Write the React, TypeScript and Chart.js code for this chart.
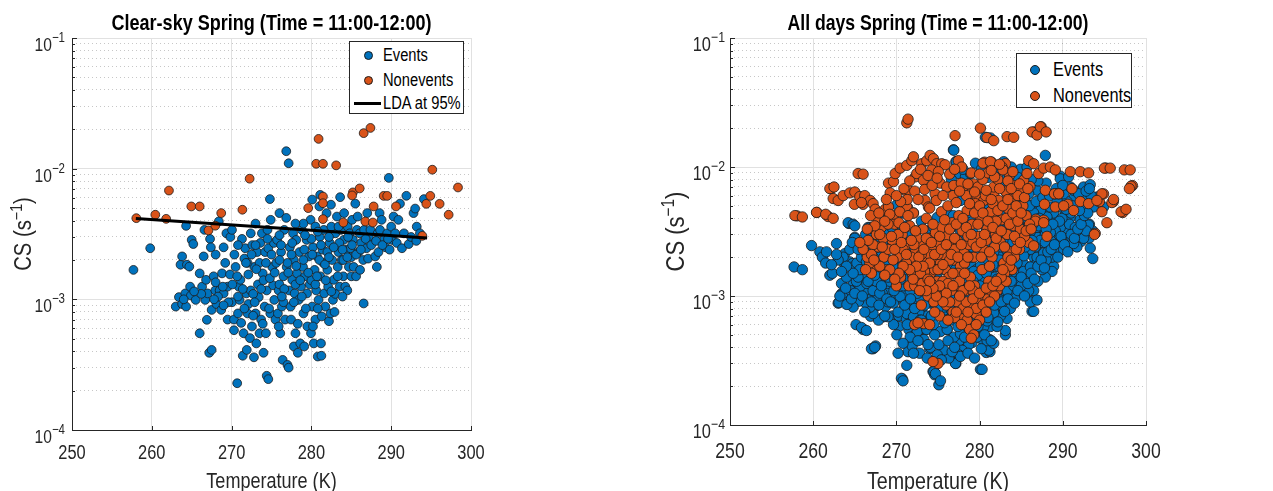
import React, { useEffect, useRef } from "react";
import { Chart, registerables } from "chart.js";
Chart.register(...registerables);

const FONT = '"Liberation Sans", Arial, Helvetica, sans-serif';
const BLUE = "#0072BD";
const ORANGE = "#D95319";
const AXIS = "#262626";

const xTicks = [250, 260, 270, 280, 290, 300];
const xTickLabels = ["250", "260", "270", "280", "290", "300"];
const yTicks = [1e-4, 1e-3, 1e-2, 1e-1];
const yTickExponents = ["−4", "−3", "−2", "−1"];
const yMinorTicks: number[] = [];
for (const d of [1e-4, 1e-3, 1e-2]) for (let m = 2; m <= 9; m++) yMinorTicks.push(m * d);

// LDA boundary (clear-sky panel)
const ldaLine: [number, number][] = [[258, 4.15e-3], [294.5, 2.95e-3]];

// Clear-sky events [T (K), CS (1/s)]
const clearEvents: [number, number][] = [
[257.7,1.68e-3],[259.8,2.46e-3],[263.0,8.8e-4],[263.4,1.04e-3],[263.6,1.84e-3],[263.8,2.13e-3],[263.8,9.2e-4],[264.2,1.11e-3],[264.3,8.8e-4],[264.3,3.65e-3],[264.4,1.84e-3],[264.7,1.78e-3],[264.8,1.25e-3],[264.9,1.07e-3],[265.0,2.85e-3],[265.2,2.65e-3],[265.5,9.9e-4],[266.0,1.58e-3],[266.0,5.5e-4],[266.3,1.25e-3],[266.5,2.13e-3],[266.6,3.4e-3],[266.7,9.9e-4],[266.8,1.41e-3],[266.9,6.97e-4],[267.0,1.11e-3],[267.2,3.9e-4],[267.3,2.9e-3],[267.4,2.5e-3],[267.5,4.1e-4],[267.5,8.3e-4],[267.75,1.5e-3],[267.96,1.17e-3],[268.1,9.2e-4],[268.4,3.95e-3],[268.5,1.17e-3],[268.7,8.3e-4],[268.8,1.58e-3],[269.0,1.11e-3],[269.2,1.9e-3],[269.35,3.2e-3],[269.5,7.0e-4],[269.8,1.55e-3],[269.85,3.0e-3],[270.05,3.4e-3],[270.05,9.5e-4],[270.3,7.0e-4],[270.3,5.8e-4],[270.35,2.2e-3],[270.5,1.77e-3],[270.7,2.28e-4],[270.8,7.8e-4],[270.9,1.25e-3],[271.0,9.9e-4],[271.1,1.41e-3],[271.2,6.6e-4],[271.3,2.9e-3],[271.4,3.7e-4],[271.5,5.5e-4],[271.6,2.05e-3],[271.7,2.46e-3],[271.85,1.11e-3],[271.9,4.1e-4],[272.0,7.8e-4],[272.1,9.2e-4],[272.3,5.05e-4],[272.4,3.2e-3],[272.4,1.17e-3],[272.55,6.2e-4],[272.8,3.6e-4],[272.85,1.77e-3],[273.0,3.8e-3],[273.0,7.8e-4],[273.1,4.6e-4],[273.2,2.3e-3],[273.3,1.3e-3],[273.4,1.04e-3],[273.5,5.5e-4],[273.6,2.7e-3],[273.7,7.0e-4],[273.8,3.2e-3],[273.9,1.58e-3],[274.0,3.9e-4],[274.15,8.8e-4],[274.2,2.3e-3],[274.3,5.5e-4],[274.4,2.6e-4],[274.4,1.17e-3],[274.6,2.45e-4],[274.6,2.46e-3],[274.8,5.85e-3],[274.85,7.8e-4],[274.9,4.06e-3],[275.1,1.77e-3],[275.2,1.28e-3],[275.3,2.7e-3],[275.35,9.9e-4],[275.5,7.0e-4],[275.6,1.9e-3],[275.7,2.85e-3],[275.8,7.8e-4],[275.9,1.17e-3],[276.0,4.57e-3],[276.1,5.5e-4],[276.2,2.3e-3],[276.3,8.8e-4],[276.4,3.44e-4],[276.5,1.5e-3],[276.6,3.4e-3],[276.7,7.0e-4],[276.85,4.2e-3],[276.85,1.36e-2],[276.9,1.77e-3],[277.0,3.15e-4],[277.15,1.1e-2],[277.15,3.0e-4],[277.2,1.17e-3],[277.3,2.5e-3],[277.4,8.8e-4],[277.45,7.0e-4],[277.6,1.41e-3],[277.7,3.2e-3],[277.8,2.0e-3],[277.8,4.36e-4],[277.9,1.11e-3],[278.0,5.5e-4],[278.1,2.85e-3],[278.2,1.58e-3],[278.3,3.9e-4],[278.4,9.9e-4],[278.5,2.3e-3],[278.6,4.6e-4],[278.7,1.25e-3],[278.8,3.4e-3],[278.95,1.77e-3],[279.0,7.8e-4],[279.1,4.36e-4],[279.2,1.5e-3],[279.4,2.85e-3],[279.45,1.11e-3],[279.5,6.2e-4],[279.7,2.13e-3],[279.8,1.3e-3],[279.9,4.06e-3],[279.95,5.5e-4],[280.1,5.8e-3],[280.1,8.8e-4],[280.2,2.5e-3],[280.3,4.6e-4],[280.4,1.68e-3],[280.5,3.61e-3],[280.5,7.0e-4],[280.6,1.17e-3],[280.7,2.13e-3],[280.8,3.65e-4],[280.9,9.9e-4],[281.0,5.14e-3],[281.05,3.0e-3],[281.1,6.3e-3],[281.1,1.5e-3],[281.2,4.6e-4],[281.25,3.7e-4],[281.3,7.4e-4],[281.4,2.4e-3],[281.5,1.9e-3],[281.55,3.4e-3],[281.6,1.11e-3],[281.75,8.8e-4],[281.9,4.57e-3],[282.0,1.68e-3],[282.1,1.25e-3],[282.2,6.8e-4],[282.3,2.7e-3],[282.4,7.8e-4],[282.45,5.3e-3],[282.6,2.0e-3],[282.7,9.9e-4],[282.8,1.41e-3],[282.9,8.0e-4],[283.0,3.2e-3],[283.2,4.3e-3],[283.3,1.77e-3],[283.4,2.3e-3],[283.55,1.25e-3],[283.6,6.05e-3],[283.7,3.4e-3],[283.8,2.0e-3],[284.0,1.5e-3],[284.05,2.85e-3],[284.1,4.57e-3],[284.25,1.25e-3],[284.4,2.4e-3],[284.5,1.17e-3],[284.55,3.6e-3],[284.7,1.77e-3],[284.8,3.2e-3],[284.9,2.46e-3],[285.0,1.5e-3],[285.1,4.06e-3],[285.2,2.85e-3],[285.3,1.77e-3],[285.5,5.4e-3],[285.6,1.5e-3],[285.7,3.4e-3],[285.8,4.3e-3],[285.9,2.3e-3],[286.05,3.2e-3],[286.1,1.68e-3],[286.25,2.7e-3],[286.5,2.0e-3],[286.55,9.3e-4],[286.6,3.4e-3],[286.9,2.46e-3],[287.0,4.57e-3],[287.1,2.05e-3],[287.2,3.0e-3],[287.4,3.4e-3],[288.0,2.13e-3],[288.2,1.77e-3],[288.3,3.2e-3],[288.4,2.3e-3],[288.55,4.57e-3],[288.6,3.4e-3],[288.8,4.06e-3],[289.1,2.85e-3],[289.3,2.5e-3],[289.5,3.2e-3],[289.7,8.5e-3],[289.8,2.4e-3],[290.0,3.6e-3],[290.1,2.85e-3],[290.3,4.3e-3],[290.5,3.2e-3],[290.7,2.7e-3],[290.9,4.06e-3],[291.1,5.4e-3],[291.35,2.46e-3],[291.6,3.2e-3],[291.9,6.2e-3],[292.2,2.65e-3],[292.5,3.0e-3],[292.8,4.57e-3],[293.0,4.95e-3],[293.15,2.8e-3],[293.2,3.6e-3],[293.6,3.2e-3],[294.1,5.85e-3],
[272.0,1.9e-3],[272.6,2.6e-3],[273.5,1.9e-3],[274.0,1.4e-3],[275.0,2.2e-3],[276.0,1.3e-3],[277.0,1.9e-3],[278.0,1.3e-3],[279.0,2.0e-3],[280.0,1.4e-3],[281.0,2.0e-3],[282.0,2.3e-3],[283.0,1.1e-3],[280.0,2.9e-3],[279.0,3.8e-3],[278.0,3.8e-3],[282.5,3.6e-3],[284.0,2.0e-3],[285.0,2.1e-3],[283.5,2.7e-3],[270.8,1.05e-3],[269.5,1.25e-3],[268.0,1.35e-3],[276.5,9.5e-4],[278.8,1.05e-3],[280.5,1.3e-3],[281.8,1.4e-3],
[268.3,1.05e-3],[268.9,1.25e-3],[269.6,9.5e-4],[270.1,1.3e-3],[270.7,1.5e-3],[271.4,1.2e-3],[272.1,1.55e-3],[272.7,1.1e-3],[273.1,1.7e-3],[273.7,1.2e-3],[274.3,1.9e-3],[274.8,1.45e-3],[275.4,1.6e-3],[276.0,2.0e-3],[276.6,1.2e-3],[277.1,1.6e-3],[277.5,2.2e-3],[278.1,1.8e-3],[278.6,1.4e-3],[279.1,2.4e-3],[279.6,1.6e-3],[280.1,2.2e-3],[280.7,1.5e-3],[281.2,2.6e-3],[281.7,1.85e-3],[282.2,2.1e-3],[282.8,2.5e-3],[283.3,1.5e-3],[283.9,2.4e-3],[284.5,2.1e-3],[285.1,2.6e-3],[285.6,2.2e-3],[286.2,2.4e-3],[286.8,2.9e-3],[287.5,2.6e-3],[288.1,2.8e-3],[288.9,2.6e-3],[289.6,2.9e-3],[271.6,8.5e-4],[272.9,9.5e-4],[274.7,8.5e-4],[276.3,1.05e-3],[277.8,9.5e-4],[279.3,8.5e-4],[280.8,8.5e-4],[282.5,1.15e-3],[283.9,1.05e-3],[275.9,6.2e-4],[278.3,6.5e-4],[280.2,6.2e-4],[273.9,6.5e-4],[272.7,7.5e-4],[269.0,9.0e-4],[267.8,1.0e-3],[266.2,1.1e-3],[265.3,1.15e-3],[264.0,1.0e-3],[271.8,1.9e-3],[273.0,2.6e-3],[274.5,2.9e-3],[276.2,2.6e-3],[277.6,2.7e-3],[279.2,3.1e-3],[280.8,3.3e-3],[282.2,3.0e-3],[283.4,3.6e-3],[284.6,3.0e-3],[276.0,3.1e-3],[274.5,3.4e-3],[272.5,2.2e-3],[270.8,2.6e-3],[269.0,2.5e-3],[268.0,2.2e-3]
];

// Clear-sky nonevents
const clearNonevents: [number, number][] = [
[258.06,4.18e-3],[260.44,4.44e-3],[261.8,4.13e-3],[262.15,6.8e-3],[264.95,5.14e-3],[266.0,5.14e-3],[267.1,3.37e-3],[267.96,3.66e-3],[268.7,4.57e-3],[271.35,4.85e-3],[272.26,8.38e-3],[279.6,4.99e-3],[280.9,1.69e-2],[280.6,1.09e-2],[281.45,1.09e-2],[283.1,1.06e-2],[281.45,6.12e-3],[281.45,5.44e-3],[281.45,4.11e-3],[284.0,3.87e-3],[285.2,6.58e-3],[285.1,6.24e-3],[286.05,7.06e-3],[286.55,1.87e-2],[287.4,2.05e-2],[286.76,3.94e-3],[287.7,3.87e-3],[287.8,5.14e-3],[289.06,6.19e-3],[289.5,6.19e-3],[290.6,5.14e-3],[293.9,3.06e-3],[294.4,5.38e-3],[294.9,6.19e-3],[295.15,9.82e-3],[296.07,5.38e-3],[297.2,4.44e-3],[298.37,7.18e-3]
];

// Additional events on all days (not clear-sky)
const otherEvents: [number, number][] = [
[258.7,1.6e-3],[260.8,2.2e-3],[261.1,2.0e-3],[261.5,1.8e-3],[262.0,1.45e-3],[262.3,1.5e-3],[262.8,2.55e-3],[263.1,8.9e-4],[264.2,3.7e-3],[264.8,3.6e-3],[265.0,2.8e-3],[265.15,6.0e-4],[265.8,5.7e-4],[266.4,5.4e-4],[267.0,3.9e-4],[267.4,4.0e-4],[270.05,5.1e-3],[270.8,4.4e-3],[270.2,3.6e-4],[270.6,2.3e-4],[270.8,2.2e-4],[271.25,2.9e-4],[272.05,3.6e-4],[273.7,3.3e-4],[274.5,2.6e-4],[274.7,2.5e-4],[275.1,2.05e-4],[275.3,2.2e-4],[276.9,1.35e-2],[277.2,1.1e-2],[279.5,1.07e-2],[280.7,1.7e-2],[281.3,1.68e-2],[280.1,2.7e-4],[280.3,2.7e-4],[281.1,3.8e-4],[283.1,5.0e-4],[283.1,5.4e-4],[286.3,7.6e-4],[286.5,7.6e-4],[287.9,1.23e-2],[289.7,8.1e-3],[290.7,8.4e-3],[292.5,7.0e-3],[293.3,7.3e-3],[293.1,3.55e-3],[293.3,2.35e-3],[293.6,1.95e-3],[291.7,2.4e-3],[290.9,2.9e-3],[291.3,2.55e-3],[292.5,2.8e-3],[292.3,4.9e-3],[293.7,4.9e-3],[294.9,4.9e-3],[291.4,5.9e-3],[292.6,5.5e-3],[288.9,1.7e-3],[288.7,1.55e-3],[287.9,1.4e-3],[286.9,1.8e-3],[286.5,1.1e-3],[285.9,1.1e-3],[286.1,9.0e-4],[286.9,9.3e-4],[285.5,1.35e-3],[284.9,1.05e-3],[284.3,9.6e-4],[283.7,8.0e-4],[283.3,6.7e-4],[282.5,7.0e-4],[281.7,7.4e-4],[281.3,5.8e-4],[280.5,5.8e-4],[279.7,4.8e-4],[278.7,4.2e-4],[277.9,3.8e-4],[277.5,3.5e-4],[277.1,3.0e-4],[276.3,3.3e-4],[275.7,3.8e-4],[274.9,3.5e-4],[274.1,4.0e-4],[273.3,4.6e-4],[272.5,5.3e-4],[271.65,4.8e-4],[270.8,4.3e-4],[270.05,5.0e-4],[269.65,6.0e-4],[269.0,6.9e-4],[268.45,6.9e-4],[267.85,6.5e-4],[267.2,7.3e-4],[266.85,8.2e-4],[266.25,8.9e-4],[265.45,9.1e-4],[264.8,8.2e-4],[264.05,8.6e-4],[263.6,1.05e-3],[263.4,1.25e-3],[264.0,1.4e-3],[264.6,1.67e-3],[265.25,1.8e-3],[265.8,2.0e-3],[266.45,2.1e-3],[267.25,2.3e-3],[267.85,2.5e-3],[268.45,2.7e-3],[268.85,3.1e-3],[269.45,3.4e-3],[265.6,1.18e-3],[266.45,1.25e-3],[267.2,1.1e-3],[268.0,1.05e-3],[268.85,9.5e-4],[269.65,8.8e-4],[270.45,9.9e-4],[271.25,7.3e-4],[272.05,6.9e-4],[272.85,6.5e-4],[273.65,5.5e-4],[274.5,6.0e-4],[275.3,5.3e-4],[276.1,5.5e-4],[276.9,4.8e-4],[277.7,5.1e-4],[278.5,5.8e-4],[279.3,6.3e-4],[279.7,6.9e-4],[280.9,6.4e-4],[282.1,5.8e-4],[281.7,4.3e-4],[280.9,4.5e-4],[277.7,3.4e-4],[276.7,3.7e-4],[275.1,4.2e-4],[279.3,1.0e-3],[281.3,1.0e-3],[282.5,9.3e-4],[283.3,1.1e-3],[284.1,1.2e-3],[284.5,1.3e-3],[285.3,1.55e-3],[286.1,1.68e-3],[286.9,2.0e-3],[287.7,2.15e-3],[288.5,2.4e-3],[288.9,2.7e-3],[289.5,3.0e-3],[289.9,2.7e-3],[290.3,3.1e-3],[290.5,3.3e-3],[289.7,3.4e-3],[289.1,3.2e-3],[288.5,3.1e-3],[287.9,3.0e-3],[287.3,2.7e-3],[286.7,2.4e-3],[286.1,2.3e-3],[285.3,2.05e-3],[284.5,1.8e-3],[283.7,1.6e-3],[282.9,1.5e-3],[282.1,1.35e-3],[281.3,1.25e-3],[280.5,1.35e-3],[279.7,1.2e-3],[278.9,9.5e-4],[278.1,8.2e-4],[277.3,9.5e-4],[276.5,7.9e-4],[275.7,8.2e-4],[274.9,9.3e-4],[274.1,9.9e-4],[273.3,1.1e-3],[272.5,1.05e-3],[271.65,1.1e-3],[270.85,1.2e-3],[290.5,5.4e-3],[291.3,6.6e-3],[291.9,6.2e-3],[289.7,4.9e-3],[288.9,4.4e-3],[288.1,4.1e-3],[287.3,4.6e-3],[286.5,4.4e-3],[285.7,4.0e-3],[284.9,3.4e-3],[284.1,3.1e-3],[283.3,2.8e-3],[282.5,2.4e-3],[281.7,2.2e-3],[280.9,1.9e-3],[280.1,1.7e-3],[279.3,1.55e-3],[278.5,1.35e-3],[277.7,1.2e-3],[285.3,3.0e-3],[286.1,3.15e-3],[286.9,3.4e-3],[287.7,3.8e-3],[288.5,4.9e-3],[289.3,5.5e-3],[290.1,6.2e-3],[290.9,7.0e-3],[286.9,6.6e-3],[285.9,6.2e-3],[284.9,5.5e-3],[284.1,4.9e-3],[282.5,4.4e-3],[281.7,4.9e-3],[282.5,7.0e-3],[283.3,8.4e-3],[282.9,1.1e-2],[284.9,9.6e-3],[285.7,1.0e-2],[277.5,8.9e-3],[278.3,8.4e-3],[278.9,8.9e-3],[276.3,7.0e-3],[277.7,5.5e-3],[279.3,5.5e-3],[278.5,4.4e-3],[272.05,4.4e-3],[271.25,3.5e-3],[270.45,3.1e-3],[270.05,2.6e-3],[268.05,2.6e-3],[267.45,3.1e-3],[266.85,3.4e-3],[265.0,3.5e-3],[264.4,2.3e-3],[263.6,2.0e-3],[263.0,1.9e-3],
[264.5,1.1e-3],[265.2,1.3e-3],[266.0,1.5e-3],[266.8,1.6e-3],[267.6,1.3e-3],[268.4,1.5e-3],[269.2,1.3e-3],[270.0,1.5e-3],[270.6,1.7e-3],[271.4,1.5e-3],[283.9,2.2e-3],[284.7,2.6e-3],[285.5,2.4e-3],[286.3,2.7e-3],[287.1,3.5e-3],[287.9,2.6e-3],[288.7,2.0e-3],[289.5,2.2e-3],[290.1,2.3e-3],[290.8,3.6e-3],[291.5,3.4e-3],[292.1,3.9e-3],[292.8,3.2e-3],[291.0,4.4e-3],[289.9,4.0e-3],[288.3,3.6e-3],[283.0,1.9e-3],[282.2,1.7e-3],[281.0,1.6e-3],[279.8,1.45e-3],[278.6,1.15e-3],[277.0,1.05e-3],[275.8,1.0e-3],[274.6,1.1e-3],[273.5,1.25e-3],[272.3,1.3e-3],[271.0,1.35e-3],[285.0,1.2e-3],[286.0,1.4e-3],[287.0,1.3e-3],[287.5,1.6e-3],[288.0,1.9e-3],
[263.2,1.0e-3],[263.9,1.15e-3],[264.6,9.5e-4],[265.0,1.05e-3],[265.4,1.4e-3],[265.9,1.0e-3],[266.2,7.5e-4],[266.6,1.3e-3],[267.0,9.0e-4],[267.4,1.45e-3],[267.9,8.5e-4],[268.2,1.2e-3],[268.6,7.0e-4],[269.0,1.4e-3],[269.3,9.0e-4],[269.7,1.1e-3],[270.2,7.5e-4],[270.5,1.35e-3],[271.0,8.5e-4],[271.3,6.0e-4],[271.7,9.5e-4],[272.2,8.0e-4],[272.6,4.5e-4],[273.0,6.5e-4],[273.4,8.5e-4],[273.8,4.2e-4],[274.2,7.0e-4],[274.6,5.0e-4],[275.0,8.0e-4],[275.4,3.2e-4],[275.8,6.2e-4],[276.2,4.5e-4],[276.6,6.5e-4],[277.0,4.0e-4],[277.4,5.8e-4],[277.8,7.2e-4],[278.2,4.8e-4],[278.6,3.6e-4],[279.0,5.5e-4],[279.4,3.3e-4],[279.8,5.8e-4],[280.2,3.9e-4],[280.6,5.0e-4],[281.0,6.8e-4],[281.4,4.5e-4],[281.8,8.5e-4],[282.2,6.3e-4],[282.6,9.0e-4],[283.0,7.6e-4],[283.4,9.5e-4],[283.8,1.3e-3],[284.2,8.8e-4],[284.6,1.1e-3],[285.0,1.4e-3],[285.4,1.0e-3],[285.8,1.25e-3],[286.2,1.5e-3],[286.6,1.35e-3],[287.0,1.7e-3],[287.4,1.9e-3],[287.8,1.65e-3],[288.2,2.2e-3],[288.6,2.3e-3],[289.0,2.5e-3],[289.4,2.0e-3],[289.8,2.9e-3],[290.2,2.5e-3],[290.6,2.2e-3],[291.0,3.0e-3],[291.4,2.8e-3],[291.8,3.3e-3],[292.2,3.6e-3],[292.6,4.2e-3],[293.0,4.4e-3],[292.0,4.6e-3],[291.2,5.0e-3],[290.4,4.7e-3],[289.6,3.8e-3],[288.8,3.6e-3],[288.0,3.3e-3],[287.2,4.0e-3],[286.4,3.6e-3],[285.6,3.3e-3],[284.8,2.9e-3],[284.0,2.6e-3],[283.2,2.3e-3],[282.4,1.9e-3],[281.6,1.75e-3],[280.8,1.5e-3],[280.0,1.2e-3],[279.2,1.3e-3],[278.4,1.0e-3],[277.6,8.5e-4],[276.8,1.0e-3],[276.0,9.5e-4],[275.2,1.15e-3],[274.4,1.3e-3],[273.6,1.4e-3],[272.8,1.5e-3],[272.0,1.4e-3],[271.2,1.6e-3],[270.4,1.55e-3],[269.6,1.7e-3],[268.8,1.8e-3],[268.0,2.0e-3],[267.2,2.0e-3],[266.4,1.85e-3],[265.6,1.6e-3],[264.8,1.5e-3],[264.0,1.7e-3],[263.4,1.55e-3],[262.8,2.1e-3],[262.2,1.75e-3],[261.6,2.2e-3],[264.7,2.6e-3],[265.4,2.3e-3],[266.1,2.6e-3],[266.3,3.0e-3],[267.0,2.8e-3],[285.2,4.6e-3],[286.0,5.0e-3],[286.8,5.4e-3],[287.6,5.8e-3],[288.4,6.0e-3],[289.2,6.8e-3],[290.0,7.2e-3],[288.0,7.5e-3],[287.0,7.8e-3],[286.2,8.0e-3],[284.6,8.3e-3],[283.8,1.0e-2],[282.0,9.0e-3],[281.0,8.3e-3],[280.2,9.6e-3],[278.0,9.6e-3],[276.6,8.0e-3],[293.4,6.0e-3],[292.8,6.5e-3],[293.2,6.8e-3]
];

// Additional nonevents on all days (not clear-sky)
const otherNonevents: [number, number][] = [
[257.8,4.2e-3],[258.7,4.1e-3],[260.4,4.45e-3],[261.5,4.3e-3],[262.4,4.0e-3],[262.0,6.8e-3],[262.5,7.0e-3],[262.4,5.7e-3],[263.0,5.5e-3],[263.6,6.0e-3],[264.4,6.3e-3],[265.0,6.4e-3],[265.4,8.9e-3],[266.0,8.8e-3],[265.6,5.9e-3],[266.2,6.0e-3],[266.85,5.5e-3],[267.2,5.2e-3],[267.45,4.7e-3],[265.8,5.3e-3],[268.65,4.7e-3],[269.05,4.9e-3],[269.65,4.2e-3],[269.05,7.5e-3],[269.65,7.7e-3],[269.25,6.3e-3],[269.85,8.9e-3],[270.45,9.8e-3],[271.25,1.03e-2],[271.85,1.12e-2],[272.05,1.2e-2],[271.25,2.2e-2],[271.4,2.35e-2],[271.05,6.6e-3],[271.45,6.6e-3],[271.25,4.9e-3],[272.05,4.4e-3],[272.45,8.9e-3],[273.05,1.06e-2],[273.65,1.12e-2],[274.05,1.23e-2],[274.45,1.16e-2],[274.85,1.06e-2],[275.45,1.06e-2],[275.85,1.04e-2],[274.25,9.5e-3],[275.05,9.2e-3],[273.25,7.9e-3],[273.45,5.5e-3],[273.85,4.9e-3],[274.65,6.2e-3],[275.25,7.5e-3],[276.05,7.0e-3],[276.9,7.2e-3],[277.05,1.75e-2],[277.45,1.12e-2],[277.85,1.0e-2],[278.27,6.6e-3],[278.9,6.2e-3],[280.1,2.0e-2],[281.7,1.6e-2],[280.4,1.07e-2],[281.3,1.1e-2],[282.7,1.0e-2],[283.3,1.72e-2],[284.1,1.7e-2],[283.6,8.6e-3],[284.1,7.2e-3],[279.3,7.4e-3],[279.7,5.9e-3],[280.5,5.5e-3],[281.7,6.2e-3],[282.5,5.2e-3],[283.3,6.2e-3],[284.9,6.6e-3],[285.3,7.9e-3],[285.7,8.9e-3],[285.9,1.12e-2],[286.5,1.06e-2],[287.1,8.9e-3],[286.3,1.87e-2],[286.9,1.77e-2],[287.3,2.05e-2],[288.0,1.87e-2],[287.7,9.8e-3],[288.5,1.0e-2],[289.1,9.5e-3],[287.9,6.6e-3],[289.0,6.2e-3],[289.5,6.2e-3],[289.1,4.9e-3],[290.9,9.2e-3],[292.1,9.2e-3],[293.1,9.0e-3],[291.1,6.8e-3],[290.1,5.0e-3],[291.3,4.6e-3],[292.1,5.4e-3],[293.1,5.2e-3],[294.7,6.2e-3],[294.1,5.5e-3],[294.7,4.5e-3],[295.0,9.8e-3],[295.7,9.8e-3],[295.9,5.3e-3],[296.1,5.6e-3],[295.3,3.7e-3],[293.8,3.0e-3],[297.0,4.5e-3],[297.6,4.7e-3],[297.4,9.5e-3],[298.1,9.5e-3],[298.2,7.1e-3],[298.0,6.8e-3],[286.7,3.8e-3],[287.7,3.7e-3],[288.1,2.9e-3],[285.9,2.6e-3],[286.5,2.45e-3],
[272.0,1.8e-3],[272.3,2.2e-3],[272.6,1.6e-3],[272.9,1.9e-3],[273.1,2.5e-3],[273.3,1.4e-3],[273.5,2.0e-3],[273.7,1.7e-3],[273.9,2.8e-3],[274.1,1.5e-3],[274.3,2.3e-3],[274.5,1.9e-3],[274.7,3.1e-3],[274.9,1.3e-3],[275.1,2.6e-3],[275.3,1.8e-3],[275.5,3.4e-3],[275.7,2.1e-3],[275.9,1.6e-3],[276.1,2.9e-3],[276.3,1.4e-3],[276.5,2.4e-3],[276.7,3.7e-3],[276.9,1.9e-3],[277.1,1.2e-3],[277.3,2.7e-3],[277.5,4.2e-3],[277.7,1.7e-3],[277.9,3.2e-3],[278.1,2.2e-3],[278.3,1.1e-3],[278.5,4.6e-3],[278.7,2.5e-3],[278.9,1.4e-3],[279.1,3.6e-3],[279.3,2.0e-3],[279.5,5.2e-3],[279.7,1.0e-3],[279.9,2.9e-3],[280.1,4.0e-3],[280.3,1.6e-3],[280.5,2.3e-3],[280.7,6.0e-3],[280.9,3.3e-3],[281.1,1.3e-3],[281.3,4.5e-3],[281.5,2.0e-3],[281.7,7.0e-3],[281.9,3.0e-3],[282.1,1.1e-3],[282.3,5.5e-3],[282.5,2.6e-3],[282.7,3.9e-3],[282.9,1.8e-3],[283.1,6.5e-3],[283.3,3.0e-3],[283.5,4.7e-3],[283.7,2.2e-3],[283.9,1.6e-3],[284.1,3.5e-3],[284.3,5.8e-3],[284.5,2.7e-3],[284.7,4.2e-3],[284.9,3.3e-3],
[269.5,2.7e-3],[269.8,3.6e-3],[270.1,2.0e-3],[270.4,4.5e-3],[270.7,3.0e-3],[271.0,2.4e-3],[271.3,5.6e-3],[271.6,3.5e-3],[271.9,1.5e-3],[268.5,2.0e-3],[268.8,1.6e-3],[267.5,1.7e-3],[267.8,2.4e-3],[266.8,1.8e-3],[267.0,1.5e-3],[266.5,2.0e-3],[266.3,1.6e-3],[268.2,3.4e-3],[267.8,3.8e-3],[269.2,4.3e-3],[270.0,1.2e-3],[270.5,1.4e-3],[271.5,1.2e-3],[272.2,1.2e-3],[273.0,1.1e-3],[273.8,1.0e-3],[274.5,9e-4],[275.2,1.0e-3],[276.0,8.5e-4],[276.8,7.5e-4],[277.3,9e-4],[277.6,6.8e-4],[278.0,8e-4],[278.5,6.5e-4],[279.0,8.5e-4],[279.6,7.2e-4],[280.0,9e-4],[280.6,1.0e-3],[281.0,9.5e-4],[281.4,1.1e-3],[281.8,1.0e-3],[282.4,1.2e-3],[278.8,5.5e-4],[279.3,5.0e-4],[279.0,4.7e-4],[275.0,3.0e-4],[274.4,3.1e-4],[272.2,6.0e-4],[273.3,6.1e-4],[275.2,7.0e-4],[277.0,6.8e-4],[280.0,6.5e-4],
[272.5,2.8e-3],[273.2,3.3e-3],[273.6,4.0e-3],[274.0,4.8e-3],[274.8,5.5e-3],[275.4,4.5e-3],[276.2,5.0e-3],[276.8,6.0e-3],[277.2,5.3e-3],[277.8,7.5e-3],[278.4,6.0e-3],[279.0,9.0e-3],[279.8,7.0e-3],[280.4,8.0e-3],[281.0,9.0e-3],[281.6,5.2e-3],[282.2,8.0e-3],[282.8,9.5e-3],[283.4,7.8e-3],[284.0,9.2e-3],[284.6,6.0e-3],[285.2,5.0e-3],[285.6,4.2e-3],[286.0,3.6e-3],[285.4,2.9e-3],[284.8,2.3e-3],[284.2,2.0e-3],[283.6,1.7e-3],[283.0,1.5e-3],[283.2,1.3e-3],[282.6,1.4e-3],[272.8,1.3e-3],[273.4,1.55e-3],[274.2,1.25e-3],[274.6,1.6e-3],[275.0,2.1e-3],[275.6,1.3e-3],[276.4,1.9e-3],[277.0,2.3e-3],[277.4,1.5e-3],[278.2,1.8e-3],[278.6,2.9e-3],[279.2,2.6e-3],[279.4,1.2e-3],[280.2,2.0e-3],[280.8,2.7e-3],[281.2,1.7e-3],[281.8,2.4e-3],[282.0,3.8e-3],[276.6,1.1e-3],[275.8,1.15e-3],[274.0,2.1e-3],[273.0,2.1e-3],[272.4,1.45e-3],[271.8,2.0e-3],[271.2,1.8e-3],[270.8,2.3e-3],[270.2,3.0e-3],[269.6,1.9e-3],[269.0,2.3e-3],[268.4,2.8e-3],[267.6,3.0e-3],[267.2,2.5e-3],[266.6,2.7e-3],
[272.1,2.5e-3],[272.3,3.2e-3],[272.7,2.0e-3],[272.9,1.5e-3],[273.1,1.25e-3],[273.3,2.3e-3],[273.6,2.8e-3],[273.8,1.35e-3],[274.0,1.8e-3],[274.2,2.6e-3],[274.4,3.6e-3],[274.6,2.1e-3],[274.8,1.15e-3],[275.0,1.6e-3],[275.2,2.9e-3],[275.4,2.3e-3],[275.6,1.75e-3],[275.8,3.9e-3],[276.0,2.5e-3],[276.2,1.25e-3],[276.4,3.3e-3],[276.6,2.1e-3],[276.8,1.5e-3],[277.0,2.8e-3],[277.2,3.6e-3],[277.4,2.0e-3],[277.6,1.3e-3],[277.8,2.5e-3],[278.0,4.0e-3],[278.2,1.5e-3],[278.4,3.4e-3],[278.6,2.0e-3],[278.8,5.2e-3],[279.0,3.0e-3],[279.2,1.1e-3],[279.4,4.4e-3],[279.6,2.4e-3],[279.8,3.6e-3],[280.0,5.0e-3],[280.2,2.6e-3],[280.4,4.4e-3],[280.6,3.0e-3],[280.8,6.6e-3],[281.0,3.8e-3],[281.2,2.2e-3],[281.4,5.6e-3],[281.6,3.4e-3],[281.8,8.4e-3],[282.0,2.8e-3],[282.2,4.6e-3],[282.4,6.8e-3],[282.6,3.2e-3],[282.8,5.0e-3],[283.0,2.4e-3],[283.2,4.0e-3],[283.4,5.6e-3],[283.6,3.6e-3],[283.8,6.8e-3],[284.0,4.4e-3],[284.2,2.9e-3],[284.4,5.0e-3],[284.6,3.8e-3],[284.8,7.4e-3],[285.0,4.4e-3],[285.4,5.8e-3],[285.8,6.8e-3],[270.5,5.4e-3],[270.9,6.8e-3],[271.6,7.8e-3],[272.2,6.5e-3],[272.6,5.6e-3],[272.9,9.6e-3],[273.4,6.7e-3],[273.8,8.6e-3],[274.3,7.2e-3],[274.9,8.2e-3],[275.6,6.0e-3],[276.4,8.8e-3],[277.0,9.6e-3],[277.6,6.5e-3],[278.6,7.4e-3],[279.4,6.4e-3],[280.0,8.8e-3],[281.4,9.4e-3],[282.4,1.05e-2],[269.0,3.6e-3],[269.4,2.9e-3],[269.8,2.3e-3],[270.3,3.7e-3],[270.6,2.6e-3],[271.0,3.4e-3],[271.4,4.2e-3],[271.8,2.7e-3],[268.0,3.0e-3],[268.6,3.8e-3],[268.3,2.4e-3],[267.0,2.1e-3],[267.4,3.5e-3],[266.5,3.3e-3],[266.0,2.3e-3],[265.6,2.6e-3],[266.9,4.2e-3],[267.9,4.4e-3],[268.8,5.6e-3],[270.0,6.0e-3],
[278.0,1.1e-3],[278.4,9.0e-4],[278.8,1.2e-3],[279.2,9.5e-4],[279.6,8.0e-4],[280.0,1.05e-3],[280.4,8.5e-4],[280.8,1.15e-3],[281.2,9.0e-4],[281.6,1.2e-3],[282.0,1.3e-3],[277.6,1.0e-3],[277.2,7.5e-4],[276.8,1.2e-3],[276.4,9.0e-4],[276.0,1.05e-3],[275.6,9.0e-4],[275.2,1.2e-3],[274.8,1.0e-3],[274.4,1.15e-3],[274.0,1.3e-3],[273.6,1.1e-3],[273.2,1.7e-3],[272.8,1.1e-3],[272.4,1.7e-3],[272.0,1.35e-3],[271.6,1.6e-3],[271.2,2.1e-3],[270.8,1.7e-3],[270.3,1.5e-3],[269.8,1.35e-3],[269.2,1.6e-3],[268.6,1.45e-3],[268.0,1.7e-3],[267.3,1.9e-3],[279.6,6.0e-4],[280.8,7.5e-4],[278.6,7.5e-4],[277.8,6.0e-4],[276.2,6.5e-4],[274.6,7.5e-4],[273.0,8.5e-4],[272.6,6.2e-4],[274.0,6.0e-4],[282.8,1.6e-3],[283.4,2.0e-3],[283.8,1.9e-3],[284.4,2.3e-3],[284.9,2.6e-3],[285.6,3.2e-3],[286.2,3.3e-3]
];

const toXY = (arr: [number, number][]) => arr.map(([x, y]) => ({ x, y }));

type Part = { t: string; size: number; dy: number; weight?: string };

function drawParts(ctx: CanvasRenderingContext2D, parts: Part[], x: number, y: number, align: "left" | "center" | "right", sx: number, rot = 0, color = AXIS) {
  ctx.save();
  ctx.translate(x, y);
  if (rot) ctx.rotate(rot);
  ctx.scale(sx, 1);
  ctx.fillStyle = color;
  ctx.textBaseline = "alphabetic";
  ctx.textAlign = "left";
  const widths = parts.map((p) => { ctx.font = `${p.weight || "normal"} ${p.size}px ${FONT}`; return ctx.measureText(p.t).width; });
  const total = widths.reduce((a, b) => a + b, 0);
  let cx = align === "center" ? -total / 2 : align === "right" ? -total : 0;
  parts.forEach((p, i) => {
    ctx.font = `${p.weight || "normal"} ${p.size}px ${FONT}`;
    ctx.fillText(p.t, cx, p.dy);
    cx += widths[i];
  });
  ctx.restore();
}

type PanelCfg = {
  left: number; width: number;
  title: string; titleSize: number; titleY: number;
  chartLeft: number; chartRight: number; chartBottom: number;
  xTickSize: number; xTickY: number;
  yBase: number; yExp: number; yTickRight: number;
  labelSize: number; yLabelSize: number; xTitleY: number; yTitleX: number;
  sx: number;
  radius: number;
  events: [number, number][]; nonevents: [number, number][];
  lda: boolean;
  legend: { x: number; y: number; w: number; h: number; size: number; rows: number[]; mx: number; tx: number; md: number };
};

function Panel({ cfg }: { cfg: PanelCfg }) {
  const ref = useRef<HTMLCanvasElement>(null);
  useEffect(() => {
    const datasets: any[] = [
      { label: "Events", data: toXY(cfg.events), backgroundColor: BLUE, borderColor: "#1c1c1c", borderWidth: 0.8, pointRadius: cfg.radius, order: 3 },
      { label: "Nonevents", data: toXY(cfg.nonevents), backgroundColor: ORANGE, borderColor: "#1c1c1c", borderWidth: 0.8, pointRadius: cfg.radius, order: 2 },
    ];
    if (cfg.lda) {
      datasets.push({ label: "LDA at 95%", type: "line", data: toXY(ldaLine), borderColor: "#000", borderWidth: 3, pointRadius: 0, showLine: true, fill: false, order: 1 });
    }
    const textPlugin = {
      id: "matlabText",
      afterDraw(chart: any) {
        const ctx: CanvasRenderingContext2D = chart.ctx;
        const xs = chart.scales.x, ys = chart.scales.y, ca = chart.chartArea;
        const cxm = (ca.left + ca.right) / 2;
        const cym = (ca.top + ca.bottom) / 2;
        // inward tick marks (left and bottom axes)
        ctx.save();
        ctx.strokeStyle = AXIS;
        ctx.lineWidth = 1;
        ctx.beginPath();
        yTicks.forEach((v) => { const py = Math.round(ys.getPixelForValue(v)) + 0.5; ctx.moveTo(ca.left, py); ctx.lineTo(ca.left + 5, py); });
        yMinorTicks.forEach((v) => { const py = Math.round(ys.getPixelForValue(v)) + 0.5; ctx.moveTo(ca.left, py); ctx.lineTo(ca.left + 3, py); });
        xTicks.forEach((v) => { const px = Math.round(xs.getPixelForValue(v)) + 0.5; ctx.moveTo(px, ca.bottom); ctx.lineTo(px, ca.bottom - 4); });
        ctx.stroke();
        ctx.restore();
        // title
        drawParts(ctx, [{ t: cfg.title, size: cfg.titleSize, dy: 0.36 * cfg.titleSize, weight: "bold" }], cxm, cfg.titleY, "center", cfg.sx, 0, "#000");
        // x tick labels
        xTicks.forEach((v, i) => {
          drawParts(ctx, [{ t: xTickLabels[i], size: cfg.xTickSize, dy: 0.36 * cfg.xTickSize }], xs.getPixelForValue(v), cfg.xTickY, "center", cfg.sx);
        });
        // y tick labels 10^n
        yTicks.forEach((v, i) => {
          const py = ys.getPixelForValue(v);
          drawParts(ctx, [
            { t: "10", size: cfg.yBase, dy: 6 + 0.36 * cfg.yBase },
            { t: yTickExponents[i], size: cfg.yExp, dy: -1 + 0.36 * cfg.yExp },
          ], cfg.yTickRight, py, "right", cfg.sx);
        });
        // axis titles
        drawParts(ctx, [{ t: "Temperature (K)", size: cfg.labelSize, dy: 0.36 * cfg.labelSize }], cxm, cfg.xTitleY, "center", cfg.sx);
        const ls = cfg.yLabelSize, es = ls * 0.7;
        drawParts(ctx, [
          { t: "CS (s", size: ls, dy: 0.36 * ls },
          { t: "−1", size: es, dy: 0.36 * ls - ls * 0.42 },
          { t: ")", size: ls, dy: 0.36 * ls },
        ], cfg.yTitleX, cym, "center", cfg.sx + 0.06, -Math.PI / 2);
      },
    };
    const chart = new Chart(ref.current!, {
      type: "scatter",
      data: { datasets },
      plugins: [textPlugin],
      options: {
        animation: false,
        responsive: false,
        devicePixelRatio: 1,
        layout: { padding: { left: 0, top: 38, bottom: 0, right: cfg.width - cfg.chartRight } },
        plugins: { legend: { display: false }, tooltip: { enabled: false }, title: { display: false } },
        scales: {
          x: {
            type: "linear", min: 250, max: 300, position: "bottom",
            afterBuildTicks: (s: any) => { s.ticks = xTicks.map((v) => ({ value: v })); },
            afterFit: (s: any) => { s.height = 491 - cfg.chartBottom; },
            ticks: { display: false },
            grid: { color: "#e1e1e1", drawTicks: false, lineWidth: 1 },
            border: { color: AXIS, width: 1 },
          },
          y: {
            type: "logarithmic", min: 1e-4, max: 1e-1, position: "left",
            afterBuildTicks: (s: any) => { s.ticks = yTicks.map((v) => ({ value: v, major: true })); },
            afterFit: (s: any) => { s.width = cfg.chartLeft; },
            ticks: { display: false },
            grid: { color: "#e1e1e1", drawTicks: false, lineWidth: 1 },
            border: { color: AXIS, width: 1 },
          },
          yMinor: {
            type: "logarithmic", min: 1e-4, max: 1e-1, position: "right",
            afterBuildTicks: (s: any) => { s.ticks = yMinorTicks.map((v) => ({ value: v })); },
            afterFit: (s: any) => { s.width = 0; },
            ticks: { display: false },
            grid: { color: "rgba(0,0,0,0.22)", drawTicks: false, lineWidth: 1 },
            border: { display: false, dash: [1, 3] },
          },
        },
      } as any,
    });
    return () => chart.destroy();
  }, []);
  const lg = cfg.legend;
  const marker = (color: string, cy: number) => (
    <div style={{ position: "absolute", left: lg.mx - lg.md / 2, top: cy - lg.md / 2, width: lg.md, height: lg.md, borderRadius: "50%", background: color, border: "0.8px solid #1c1c1c", boxSizing: "border-box" }} />
  );
  const text = (t: string, cy: number) => (
    <div style={{ position: "absolute", left: lg.tx, top: cy - lg.size * 0.6, lineHeight: `${lg.size * 1.2}px`, fontSize: lg.size, whiteSpace: "nowrap", transform: `scaleX(${cfg.sx + 0.02})`, transformOrigin: "left center" }}>{t}</div>
  );
  return (
    <div style={{ position: "absolute", left: cfg.left, top: 0, width: cfg.width, height: 491 }}>
      <canvas ref={ref} width={cfg.width} height={491} style={{ width: cfg.width, height: 491, display: "block" }} />
      <div style={{ position: "absolute", left: lg.x, top: lg.y, width: lg.w, height: lg.h, border: "1px solid #262626", background: "#fff", boxSizing: "border-box", fontFamily: FONT, color: "#000" }}>
        {marker(BLUE, lg.rows[0])}
        {text("Events", lg.rows[0])}
        {marker(ORANGE, lg.rows[1])}
        {text("Nonevents", lg.rows[1])}
        {lg.rows.length > 2 && (
          <>
            <div style={{ position: "absolute", left: 4, top: lg.rows[2] - 1.5, width: 27, height: 3, background: "#000" }} />
            {text("LDA at 95%", lg.rows[2])}
          </>
        )}
      </div>
    </div>
  );
}

const leftCfg: PanelCfg = {
  left: 0, width: 636,
  title: "Clear-sky Spring (Time = 11:00-12:00)", titleSize: 22, titleY: 22,
  chartLeft: 72, chartRight: 471, chartBottom: 430,
  xTickSize: 20, xTickY: 452,
  yBase: 19, yExp: 14, yTickRight: 65,
  labelSize: 22, yLabelSize: 23, xTitleY: 480, yTitleX: 23,
  sx: 0.82,
  radius: 4.4,
  events: clearEvents, nonevents: clearNonevents, lda: true,
  legend: { x: 349, y: 41, w: 115, h: 73, size: 17.5, rows: [13, 38, 61], mx: 18, tx: 33, md: 9 },
};

const rightCfg: PanelCfg = {
  left: 636, width: 637,
  title: "All days Spring (Time = 11:00-12:00)", titleSize: 21.5, titleY: 22,
  chartLeft: 94, chartRight: 510, chartBottom: 425,
  xTickSize: 21.5, xTickY: 450,
  yBase: 20, yExp: 15, yTickRight: 89,
  labelSize: 24, yLabelSize: 25, xTitleY: 480, yTitleX: 39,
  sx: 0.82,
  radius: 5.2,
  events: [...clearEvents, ...otherEvents], nonevents: [...clearNonevents, ...otherNonevents], lda: false,
  legend: { x: 380, y: 53, w: 116, h: 55, size: 19.5, rows: [16, 42], mx: 18, tx: 36, md: 10 },
};

export default function App() {
  return (
    <div style={{ position: "absolute", left: 0, top: 0, width: 1273, height: 491, background: "#fff", overflow: "hidden" }}>
      <Panel cfg={leftCfg} />
      <Panel cfg={rightCfg} />
    </div>
  );
}
